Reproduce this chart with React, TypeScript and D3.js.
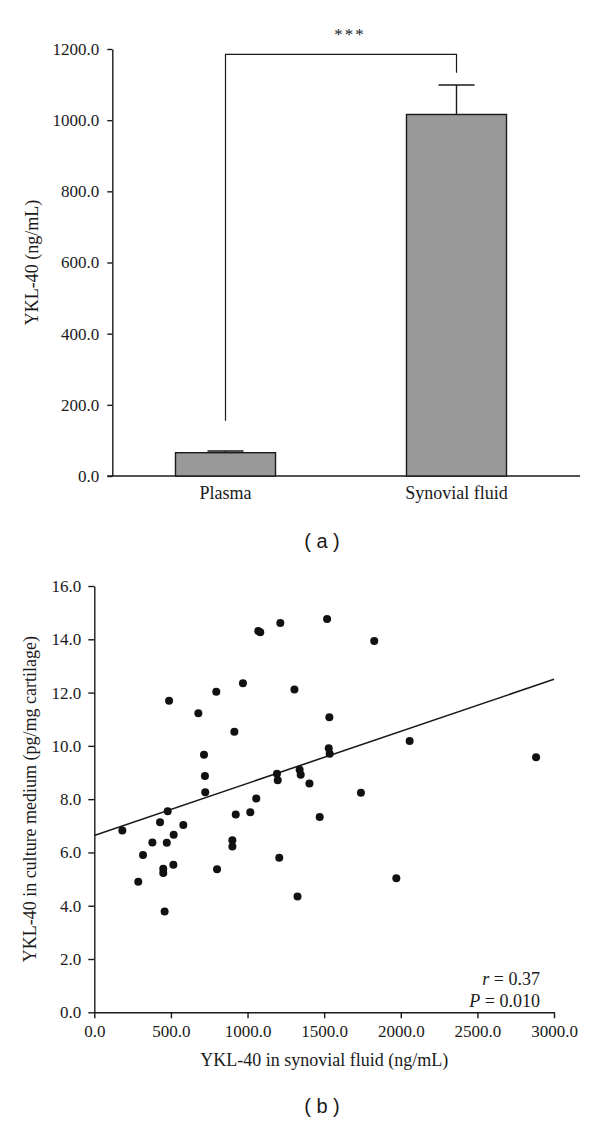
import React, { useRef, useEffect } from 'react';
import * as d3 from 'd3';

// panel (a): bar chart
const barCategories = ['Plasma', 'Synovial fluid'];
const barMeans = [65.5, 1016];
const barErrors = [4.8, 83];
const barTicks = [0, 200, 400, 600, 800, 1000, 1200];
// significance bracket (in ng/mL units)
const bracketTop = 1185;
const bracketLegEnds = [155, 1133];
const bracketLabel = '***';

// panel (b): scatter, YKL-40 synovial fluid vs culture medium
const synovialX = [
  488, 679, 796, 970, 1070, 1083, 1214, 1306, 914, 716,
  722, 724, 1192, 1197, 1340, 1347, 1404, 1057, 1519, 1827,
  1534, 2058, 1530, 1536, 1740, 2883, 479, 429, 183, 581,
  518, 379, 473, 318, 287, 450, 450, 516, 459, 923,
  1018, 901, 901, 801, 1207, 1326, 1471, 1971
];
const cultureY = [
  11.69, 11.22, 12.03, 12.35, 14.31, 14.26, 14.61, 12.12, 10.53, 9.67,
  8.87, 8.26, 8.95, 8.71, 9.10, 8.92, 8.59, 8.02, 14.76, 13.94,
  11.07, 10.18, 9.91, 9.70, 8.24, 9.57, 7.55, 7.13, 6.82, 7.03,
  6.66, 6.37, 6.36, 5.90, 4.90, 5.39, 5.23, 5.54, 3.78, 7.42,
  7.51, 6.46, 6.22, 5.37, 5.80, 4.35, 7.33, 5.03
];
const scatterXTicks = [0, 500, 1000, 1500, 2000, 2500, 3000];
const scatterYTicks = [0, 2, 4, 6, 8, 10, 12, 14, 16];
const fitIntercept = 6.64;
const fitSlope = 0.001953;
const statLines = [['r', ' = 0.37'], ['P', ' = 0.010']];

const serif = '"Liberation Serif", "Times New Roman", serif';
const sans = '"Liberation Sans", Arial, sans-serif';
const ink = '#1a1a1a';

function App() {
  const svgRef = useRef(null);

  useEffect(() => {
    if (!svgRef.current) return;
    const svg = d3.select(svgRef.current);
    svg.selectAll('*').remove();

    // ---------- (a) ----------
    const a = { left: 112.3, right: 580, top: 49, bottom: 476 };
    const yA = d3.scaleLinear().domain([0, 1200]).range([a.bottom, a.top]);
    const xA = d3.scaleBand().domain(barCategories).range([110, 572])
      .paddingInner(0.567).paddingOuter(0.2835);

    const gA = svg.append('g');

    const yAxisA = gA.append('g')
      .attr('transform', `translate(${a.left},0)`)
      .call(d3.axisLeft(yA).tickValues(barTicks).tickFormat(d3.format('.1f'))
        .tickSize(5).tickSizeOuter(0).tickPadding(8));
    yAxisA.selectAll('path,line').attr('stroke', ink).attr('stroke-width', 1.4);
    yAxisA.selectAll('text').attr('font-family', serif).attr('font-size', 17).attr('fill', ink);

    gA.append('line')
      .attr('x1', a.left - 5).attr('x2', a.right)
      .attr('y1', yA(0)).attr('y2', yA(0))
      .attr('stroke', ink).attr('stroke-width', 1.4);

    const xAxisA = gA.append('g')
      .attr('transform', `translate(0,${a.bottom})`)
      .call(d3.axisBottom(xA).tickSize(0).tickPadding(10));
    xAxisA.select('.domain').remove();
    xAxisA.selectAll('text').attr('font-family', serif).attr('font-size', 18).attr('fill', ink);

    // bars
    gA.selectAll('rect.bar')
      .data(barCategories)
      .join('rect')
      .attr('class', 'bar')
      .attr('x', d => xA(d))
      .attr('width', xA.bandwidth())
      .attr('y', (d, i) => yA(barMeans[i]))
      .attr('height', (d, i) => yA(0) - yA(barMeans[i]))
      .attr('fill', '#999999')
      .attr('stroke', ink)
      .attr('stroke-width', 1.4);

    // error bars (upper only)
    const capW = xA.bandwidth() * 0.36;
    barCategories.forEach((c, i) => {
      const cx = xA(c) + xA.bandwidth() / 2;
      gA.append('line')
        .attr('x1', cx).attr('x2', cx)
        .attr('y1', yA(barMeans[i])).attr('y2', yA(barMeans[i] + barErrors[i]))
        .attr('stroke', ink).attr('stroke-width', 1.4);
      gA.append('line')
        .attr('x1', cx - capW / 2).attr('x2', cx + capW / 2)
        .attr('y1', yA(barMeans[i] + barErrors[i])).attr('y2', yA(barMeans[i] + barErrors[i]))
        .attr('stroke', ink).attr('stroke-width', 1.4);
    });

    // significance bracket
    const bx = barCategories.map(c => xA(c) + xA.bandwidth() / 2);
    gA.append('path')
      .attr('d', d3.line()([
        [bx[0], yA(bracketLegEnds[0])],
        [bx[0], yA(bracketTop)],
        [bx[1], yA(bracketTop)],
        [bx[1], yA(bracketLegEnds[1])]
      ]))
      .attr('fill', 'none').attr('stroke', ink).attr('stroke-width', 1.2);
    gA.append('text')
      .attr('x', (bx[0] + bx[1]) / 2 + 9).attr('y', yA(bracketTop) - 14)
      .attr('text-anchor', 'middle')
      .attr('font-family', serif).attr('font-size', 17).attr('letter-spacing', 2)
      .attr('fill', ink)
      .text(bracketLabel);

    gA.append('text')
      .attr('transform', `translate(38,${(a.top + a.bottom) / 2}) rotate(-90)`)
      .attr('text-anchor', 'middle')
      .attr('font-family', serif).attr('font-size', 18).attr('fill', ink)
      .text('YKL-40 (ng/mL)');

    svg.append('text')
      .attr('x', 322).attr('y', 548)
      .attr('text-anchor', 'middle')
      .attr('font-family', sans).attr('font-size', 20).attr('fill', ink)
      .text('( a )');

    // ---------- (b) ----------
    const b = { left: 94.3, right: 554, top: 586, bottom: 1012.3 };
    const xB = d3.scaleLinear().domain([0, 3000]).range([b.left, b.right]);
    const yB = d3.scaleLinear().domain([0, 16]).range([b.bottom, b.top]);
    const gB = svg.append('g');

    const yAxisB = gB.append('g')
      .attr('transform', `translate(${b.left},0)`)
      .call(d3.axisLeft(yB).tickValues(scatterYTicks).tickFormat(d3.format('.1f'))
        .tickSize(6).tickSizeOuter(0).tickPadding(7));
    yAxisB.selectAll('path,line').attr('stroke', ink).attr('stroke-width', 1.4);
    yAxisB.selectAll('text').attr('font-family', serif).attr('font-size', 17).attr('fill', ink);

    const xAxisB = gB.append('g')
      .attr('transform', `translate(0,${b.bottom})`)
      .call(d3.axisBottom(xB).tickValues(scatterXTicks).tickFormat(d3.format('.1f'))
        .tickSize(6).tickSizeOuter(0).tickPadding(7));
    xAxisB.selectAll('path,line').attr('stroke', ink).attr('stroke-width', 1.4);
    xAxisB.selectAll('text').attr('font-family', serif).attr('font-size', 17).attr('fill', ink);

    // regression line
    gB.append('line')
      .attr('x1', xB(0)).attr('y1', yB(fitIntercept))
      .attr('x2', xB(3000)).attr('y2', yB(fitIntercept + fitSlope * 3000))
      .attr('stroke', ink).attr('stroke-width', 1.6);

    gB.selectAll('circle')
      .data(synovialX)
      .join('circle')
      .attr('cx', d => xB(d))
      .attr('cy', (d, i) => yB(cultureY[i]))
      .attr('r', 4)
      .attr('fill', '#111');

    const stats = gB.append('text')
      .attr('text-anchor', 'end')
      .attr('font-family', serif).attr('font-size', 18).attr('fill', ink);
    statLines.forEach(([sym, rest], i) => {
      const t = stats.append('tspan').attr('x', 540).attr('y', 985 + i * 22);
      t.append('tspan').attr('font-style', 'italic').text(sym);
      t.append('tspan').text(rest);
    });

    gB.append('text')
      .attr('x', (b.left + b.right) / 2).attr('y', 1066)
      .attr('text-anchor', 'middle')
      .attr('font-family', serif).attr('font-size', 18).attr('fill', ink)
      .text('YKL-40 in synovial fluid (ng/mL)');

    gB.append('text')
      .attr('transform', `translate(36,${(b.top + b.bottom) / 2}) rotate(-90)`)
      .attr('text-anchor', 'middle')
      .attr('font-family', serif).attr('font-size', 18).attr('fill', ink)
      .text('YKL-40 in culture medium (pg/mg cartilage)');

    svg.append('text')
      .attr('x', 322).attr('y', 1113)
      .attr('text-anchor', 'middle')
      .attr('font-family', sans).attr('font-size', 20).attr('fill', ink)
      .text('( b )');
  }, []);

  return (
    <div style={{ position: 'absolute', left: 0, top: 0 }}>
      <svg ref={svgRef} width={600} height={1122} style={{ display: 'block', background: '#fff' }} />
    </div>
  );
}

export default App;
